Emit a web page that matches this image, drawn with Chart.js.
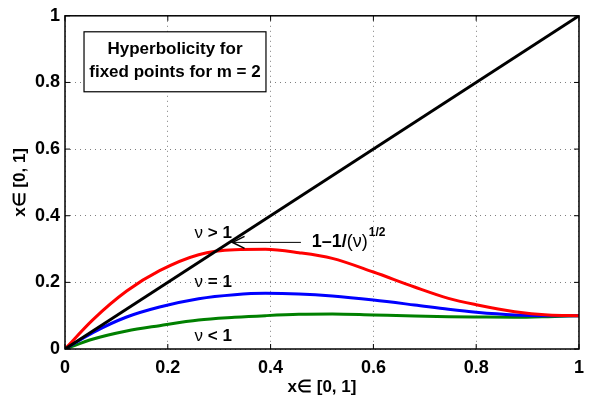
<!DOCTYPE html>
<html lang="en">
<head>
  <meta charset="UTF-8">
  <title>Hyperbolicity for fixed points</title>
  <script src="https://cdn.jsdelivr.net/npm/chart.js"></script>
  <style>
    body { margin: 0; padding: 0; background: #fff; }
    #wrap { width: 592px; height: 401px; }
  </style>
</head>
<body>
  <div id="wrap"><canvas id="chart" width="592" height="401"></canvas></div>
  <script>
    // values
    const xs       = [0, 0.055, 0.12, 0.184, 0.26, 0.33, 0.39, 0.455, 0.52, 0.6, 0.68, 0.746, 0.8, 0.875, 0.94, 1];
    const nuAbove  = [0, 0.089, 0.174, 0.235, 0.283, 0.298, 0.299, 0.289, 0.272, 0.231, 0.186, 0.152, 0.133, 0.112, 0.102, 0.1];
    const nuEqual  = [0, 0.05, 0.096, 0.126, 0.151, 0.163, 0.167, 0.165, 0.159, 0.147, 0.132, 0.119, 0.11, 0.102, 0.1, 0.1];
    const nuBelow  = [0, 0.03, 0.054, 0.07, 0.087, 0.095, 0.1, 0.104, 0.105, 0.102, 0.099, 0.097, 0.096, 0.095, 0.097, 0.1];
    const diagX    = [0, 1];
    const tickVals = [0, 0.2, 0.4, 0.6, 0.8, 1];

    const font = 'Liberation Sans, Arial, Helvetica, sans-serif';

    function pts(xv, yv) { return xv.map((x, i) => ({ x: x, y: yv[i] })); }

    // draws pieces of text in a row, [text, bold] pairs
    function runText(ctx, parts, x, y, size) {
      parts.forEach(p => {
        ctx.font = (p[1] ? 'bold ' : '') + size + 'px ' + font;
        ctx.fillText(p[0], x, y);
        x += ctx.measureText(p[0]).width;
      });
      return x;
    }

    // frame, inward ticks and the text annotations
    const extras = {
      id: 'extras',
      afterDraw(chart) {
        const ctx = chart.ctx;
        const a = chart.chartArea;
        const sx = chart.scales.x, sy = chart.scales.y;
        ctx.save();
        ctx.strokeStyle = '#000';
        ctx.lineWidth = 1.5;
        ctx.strokeRect(a.left, a.top, a.right - a.left, a.bottom - a.top);
        ctx.lineWidth = 1;
        tickVals.forEach(v => {
          const px = sx.getPixelForValue(v), py = sy.getPixelForValue(v);
          ctx.beginPath();
          ctx.moveTo(px, a.bottom); ctx.lineTo(px, a.bottom - 5);
          ctx.moveTo(px, a.top); ctx.lineTo(px, a.top + 5);
          ctx.moveTo(a.left, py); ctx.lineTo(a.left + 5, py);
          ctx.moveTo(a.right, py); ctx.lineTo(a.right - 5, py);
          ctx.stroke();
        });

        // title box
        const bx0 = sx.getPixelForValue(0.037), bx1 = sx.getPixelForValue(0.391);
        const by0 = sy.getPixelForValue(0.952), by1 = sy.getPixelForValue(0.772);
        ctx.fillStyle = '#fff';
        ctx.fillRect(bx0, by0, bx1 - bx0, by1 - by0);
        ctx.lineWidth = 1.2;
        ctx.strokeRect(bx0, by0, bx1 - bx0, by1 - by0);
        ctx.fillStyle = '#000';
        ctx.font = 'bold 17px ' + font;
        ctx.textAlign = 'center';
        ctx.textBaseline = 'middle';
        const bcx = (bx0 + bx1) / 2;
        ctx.fillText('Hyperbolicity for', bcx, by0 + 18);
        ctx.fillText('fixed points for m = 2', bcx, by0 + 41);

        // curve labels
        ctx.textAlign = 'left';
        const lab = (t, x, y) => runText(ctx, [['\u03bd', false], [t, true]], sx.getPixelForValue(x), sy.getPixelForValue(y), 17);
        lab(' > 1', 0.252, 0.347);
        lab(' = 1', 0.252, 0.2);
        lab(' < 1', 0.252, 0.039);

        // arrow
        const ax0 = sx.getPixelForValue(0.459), ax1 = sx.getPixelForValue(0.326);
        const ay = sy.getPixelForValue(0.32);
        ctx.lineWidth = 1;
        ctx.beginPath();
        ctx.moveTo(ax0, ay); ctx.lineTo(ax1, ay);
        ctx.stroke();
        ctx.lineWidth = 1.6;
        ctx.beginPath();
        ctx.moveTo(ax1 + 12, ay - 6); ctx.lineTo(ax1, ay); ctx.lineTo(ax1 + 12, ay + 6);
        ctx.stroke();

        const tx = sx.getPixelForValue(0.48);
        const endX = runText(ctx, [['1\u20131/', true], ['(\u03bd)', false]], tx, ay, 18);
        ctx.font = 'bold 12px ' + font;
        ctx.fillText('1/2', endX + 1, ay - 10);
        ctx.restore();
      }
    };

    const tickFmt = v => String(Math.round(v * 10) / 10);

    new Chart(document.getElementById('chart'), {
      type: 'line',
      data: {
        datasets: [
          { data: pts(diagX, diagX), borderColor: '#000', borderWidth: 3, pointRadius: 0, tension: 0 },
          { data: pts(xs, nuAbove), borderColor: '#ff0000', borderWidth: 3, pointRadius: 0, cubicInterpolationMode: 'monotone' },
          { data: pts(xs, nuEqual), borderColor: '#0000ff', borderWidth: 3, pointRadius: 0, cubicInterpolationMode: 'monotone' },
          { data: pts(xs, nuBelow), borderColor: '#008000', borderWidth: 3, pointRadius: 0, cubicInterpolationMode: 'monotone' }
        ]
      },
      options: {
        responsive: false,
        animation: false,
        layout: { padding: { left: 0, top: 15, right: 11, bottom: 0 } },
        plugins: { legend: { display: false }, tooltip: { enabled: false } },
        scales: {
          x: {
            type: 'linear', min: 0, max: 1,
            afterFit(s) { s.height = 52; },
            afterBuildTicks(s) { s.ticks = tickVals.map(v => ({ value: v })); },
            grid: { color: 'rgba(0,0,0,0.5)', lineWidth: 1, drawTicks: false },
            border: { display: false, dash: [1, 4] },
            ticks: { color: '#000', padding: 8, callback: tickFmt, font: { family: font, size: 18, weight: 'bold' } },
            title: { display: true, text: 'x\u2208 [0, 1]', color: '#000', padding: { top: 0, bottom: 3 },
                     font: { family: font, size: 17, weight: 'bold' } }
          },
          y: {
            type: 'linear', min: 0, max: 1,
            afterFit(s) { s.width = 65; },
            afterBuildTicks(s) { s.ticks = tickVals.map(v => ({ value: v })); },
            grid: { color: 'rgba(0,0,0,0.5)', lineWidth: 1, drawTicks: false },
            border: { display: false, dash: [1, 4] },
            ticks: { color: '#000', padding: 5, callback: tickFmt, font: { family: font, size: 18, weight: 'bold' } },
            title: { display: true, text: 'x\u2208 [0, 1]', color: '#000', padding: { top: 10, bottom: 0 },
                     font: { family: font, size: 17, weight: 'bold' } }
          }
        }
      },
      plugins: [extras]
    });
  </script>
</body>
</html>
